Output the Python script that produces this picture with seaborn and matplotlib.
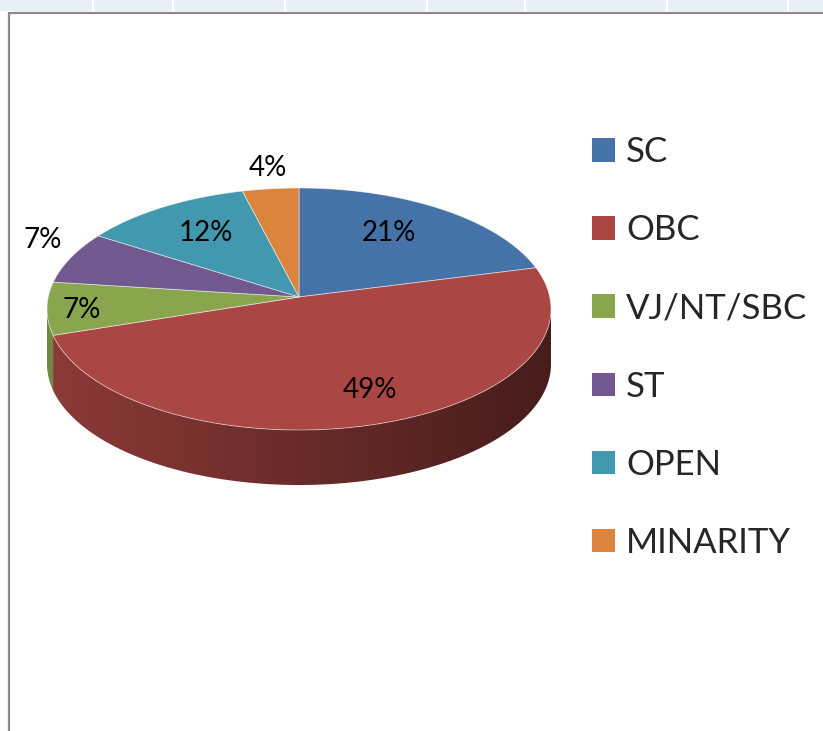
import numpy as np
import matplotlib
matplotlib.use("Agg")
import matplotlib.pyplot as plt
import seaborn as sns
from matplotlib.patches import Patch, Rectangle, Polygon
from matplotlib.lines import Line2D

sns.set_theme(style="white")
plt.rcParams["font.family"] = ["Lato", "DejaVu Sans"]

# ---------------- data ----------------
categories = ["SC", "OBC", "VJ/NT/SBC", "ST", "OPEN", "MINARITY"]
values = [21, 49, 7, 7, 12, 4]
pct_labels = ["21%", "49%", "7%", "7%", "12%", "4%"]
hex_colors = ["#4572A7", "#AA4643", "#89A54E", "#71588F", "#4198AF", "#DB843D"]

# ---------------- styling / geometry (pixels) ----------------
W, H = 823, 731
cx, cy, rx, ry = 299, 309, 252, 121      # ellipse of top face
apex_py = 297                            # perspective apex
depth_px = 55
label_dist = [0.64, 0.82, 0.87, 1.12, 0.645, 1.07]
label_shift = [4.0, 4.0, 1.6, -5.0, -1.0, -0.6]

colors = sns.color_palette(hex_colors)

fig = plt.figure(figsize=(W / 100, H / 100), dpi=100)
fig.patch.set_facecolor("white")
ax = fig.add_axes([0, 0, 1, 1])

wedges, _ = ax.pie(values, startangle=90, counterclock=False, colors=colors)
angles = [(w.theta1, w.theta2) for w in wedges]
for w in wedges:
    w.remove()

xlim = (-cx / rx, (W - cx) / rx)
ylim = ((cy - H) / ry, cy / ry)
ax.set_aspect("auto")
ax.set_xlim(*xlim)
ax.set_ylim(*ylim)
ax.axis("off")

h = (cy - apex_py) / ry
depth = depth_px / ry


def rim(theta_deg):
    th = np.radians(theta_deg)
    s, c = np.sin(th), np.cos(th)
    t = -h * s + np.sqrt(h * h * s * s - h * h + 1.0)
    return t * c, h + t * s


# side wall: gradient image clipped to each visible wall segment
gx = np.linspace(-1.05, 1.05, 600)
for (t1, t2), col in zip(angles, colors):
    th = np.linspace(t1, t2, 800)
    xs, ys = rim(th)
    mask = ys <= 1e-9
    if mask.sum() < 2:
        continue
    xs, ys = xs[mask], ys[mask]
    order = np.argsort(xs)
    xs, ys = xs[order], ys[order]
    verts = np.concatenate([np.column_stack([xs, ys]),
                            np.column_stack([xs[::-1], ys[::-1] - depth])])
    poly = Polygon(verts, closed=True, facecolor="none", edgecolor="none")
    ax.add_patch(poly)
    f = 0.62 - 0.21 * gx
    img = np.clip(np.array(col)[None, None, :] * f[None, :, None], 0, 1)
    im = ax.imshow(img, extent=(gx[0], gx[-1], -1 - depth - 0.05, 0.05),
                   aspect="auto", interpolation="bilinear", zorder=2)
    im.set_clip_path(poly)
ax.set_xlim(*xlim)
ax.set_ylim(*ylim)

# top faces
for (t1, t2), col in zip(angles, colors):
    th = np.linspace(t1, t2, 300)
    xs, ys = rim(th)
    px = np.concatenate([[0.0], xs, [0.0]])
    py = np.concatenate([[h], ys, [h]])
    ax.fill(px, py, facecolor=col, edgecolor=(1, 1, 1, 0.55), linewidth=0.6, zorder=3)

# percentage labels
for (t1, t2), lab, d, sh in zip(angles, pct_labels, label_dist, label_shift):
    m = np.radians(0.5 * (t1 + t2) + sh)
    ax.text(d * np.cos(m), h + d * np.sin(m), lab, ha="center", va="center",
            fontsize=20, color="black", zorder=5)

# legend
handles = [Patch(facecolor=c, edgecolor="none") for c in colors]
fig.legend(handles, categories, loc="upper left",
           bbox_to_anchor=(592 / W, 1 - 136 / H), frameon=False,
           fontsize=25, handlelength=0.66, handleheight=0.66,
           handletextpad=0.32, labelspacing=1.33, borderpad=0, borderaxespad=0)

# spreadsheet decoration: header strip and frame
fig.patches.append(Rectangle((0, 1 - 11 / H), 1, 11 / H, transform=fig.transFigure,
                             facecolor="#E9EDF4", edgecolor="none", zorder=0))
for sx in [92, 172, 284, 426, 524, 666, 787]:
    fig.patches.append(Rectangle((sx / W, 1 - 11 / H), 2 / W, 11 / H,
                                 transform=fig.transFigure, facecolor="white",
                                 edgecolor="none", zorder=1))
fig.lines.append(Line2D([9 / W, 1], [1 - 13 / H, 1 - 13 / H], transform=fig.transFigure,
                        color="#8A8A8A", linewidth=1.6))
fig.lines.append(Line2D([9 / W, 9 / W], [0, 1 - 13 / H], transform=fig.transFigure,
                        color="#8A8A8A", linewidth=1.6))

fig.savefig("out.png", dpi=100)
